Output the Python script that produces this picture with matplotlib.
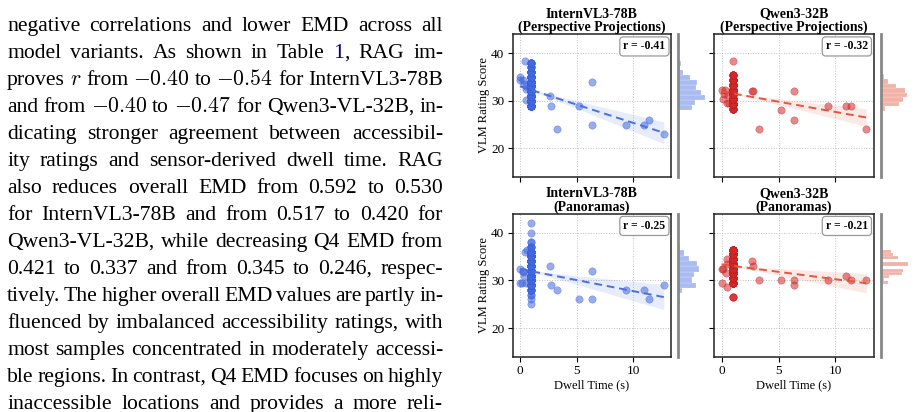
import re
import numpy as np
import matplotlib
matplotlib.use("Agg")
import matplotlib.pyplot as plt

plt.rcParams["font.family"] = ["Liberation Serif", "DejaVu Serif"]
plt.rcParams["mathtext.fontset"] = "cm"

# ---------------- data ----------------
# long dwell times, shared by both models of a view type
persp_long_x = [2.65, 2.75, 3.3, 5.25, 6.35, 6.35, 9.35, 10.95, 11.35, 12.7]
pano_long_x = [2.65, 2.75, 3.3, 5.25, 6.35, 6.35, 9.35, 10.95, 11.35, 12.7]

# InternVL3-78B, perspective projections
ivl_persp_short_x = [0.0, 0.0, 0.3, 0.4, 0.5, 0.55, 0.5, 0.45]
ivl_persp_short_y = [35.0, 34.4, 34.3, 33.5, 32.4, 33.0, 30.2, 38.4]
ivl_persp_long_y = [31, 29, 24, 29, 34, 25, 25, 25, 26, 23]
ivl_persp_col_scores = [29, 30, 31, 32, 33, 34, 35, 36, 37, 38]
ivl_persp_col_counts = [31, 40, 59, 52, 39, 41, 25, 12, 5, 7]

# Qwen3-32B, perspective projections
qwen_persp_short_x = [0.0, 0.3, 0.1, 0.2, 0.5, 0.6, 0.65, 1.0]
qwen_persp_short_y = [32.3, 32.3, 30.4, 31.5, 29.5, 31.3, 29.5, 38.4]
qwen_persp_long_y = [32, 32, 24, 28, 32, 26, 29, 29, 29, 24]
qwen_persp_col_scores = [28.3, 29.3, 30.3, 31.4, 32.3, 33.4, 34.4, 35.4]
qwen_persp_col_counts = [9, 36, 50, 58, 50, 35, 15, 8]

# InternVL3-78B, panoramas
ivl_pano_short_x = [0.0, 0.3, 0.45, 0.6, 0.0, 0.15, 0.55, 0.4, 0.3, 1.0, 1.0]
ivl_pano_short_y = [32.4, 32.0, 36.0, 36.4, 29.4, 29.4, 29.4, 31.0, 31.7, 40.0, 42.0]
ivl_pano_long_y = [33, 29, 28, 26, 32, 26, 28, 28, 26, 29]
ivl_pano_col_scores = [25, 26, 27, 28, 29, 30, 31, 32, 33, 34, 35, 36, 37, 38]
ivl_pano_col_counts = [1, 1, 2, 6, 36, 32, 35, 45, 21, 21, 25, 13, 4, 2]

# Qwen3-32B, panoramas
qwen_pano_short_x = [0.0, 0.15, 0.5, 0.5, 0.4, 0.05, 0.5]
qwen_pano_short_y = [32.4, 32.4, 34.4, 33.5, 31.5, 29.4, 28.5]
qwen_pano_long_y = [34.1, 33.0, 30.1, 30.1, 30.1, 29.1, 30.1, 31.0, 30.1, 30.1]
qwen_pano_col_scores = [26.5, 29.4, 30.5, 31.5, 32.4, 33.5, 34.5, 35.5, 36.4]
qwen_pano_col_counts = [3, 14, 18, 47, 49, 60, 40, 27, 23]

titles = ["InternVL3-78B\n(Perspective Projections)", "Qwen3-32B\n(Perspective Projections)",
          "InternVL3-78B\n(Panoramas)", "Qwen3-32B\n(Panoramas)"]
r_labels = ["r = -0.41", "r = -0.32", "r = -0.25", "r = -0.21"]

para_lines = [
    "negative correlations and lower EMD across all",
    "model variants. As shown in Table {1}, RAG im-",
    "proves $r$ from $-0.40$ to $-0.54$ for InternVL3-78B",
    "and from $-0.40$ to $-0.47$ for Qwen3-VL-32B, in-",
    "dicating stronger agreement between accessibil-",
    "ity ratings and sensor-derived dwell time. RAG",
    "also reduces overall EMD from 0.592 to 0.530",
    "for InternVL3-78B and from 0.517 to 0.420 for",
    "Qwen3-VL-32B, while decreasing Q4 EMD from",
    "0.421 to 0.337 and from 0.345 to 0.246, respec-",
    "tively. The higher overall EMD values are partly in-",
    "fluenced by imbalanced accessibility ratings, with",
    "most samples concentrated in moderately accessi-",
    "ble regions. In contrast, Q4 EMD focuses on highly",
    "inaccessible locations and provides a more reli-",
]

blue = "#4169e1"
red = "#d62728"

W, H = 914, 412
fig = plt.figure(figsize=(W / 100, H / 100), dpi=100)


def px_axes(x0, y0, x1, y1):
    return fig.add_axes([x0 / W, 1 - y1 / H, (x1 - x0) / W, (y1 - y0) / H])


# ---------------- paragraph (justified) ----------------
renderer = fig.canvas.get_renderer()
left, right = 7, 443
fs_text = 15.6
for i, line in enumerate(para_lines):
    base = 30.7 + 27.0 * i
    words = line.split()
    placed = []
    for w in words:
        pieces = []
        for part in re.split(r"(\{[^}]*\})", w):
            if not part:
                continue
            if part.startswith("{"):
                pieces.append((part[1:-1], "#00008b"))
            else:
                pieces.append((part, "black"))
        texts = []
        for s, c in pieces:
            t = fig.text(0, 1 - base / H, s, fontsize=fs_text, color=c,
                         ha="left", va="baseline")
            texts.append((t, t.get_window_extent(renderer).width))
        placed.append(texts)
    widths = [sum(wd for _, wd in ts) for ts in placed]
    gap = (right - left - sum(widths)) / max(len(placed) - 1, 1)
    x = left
    for ts, wsum in zip(placed, widths):
        xx = x
        for t, wd in ts:
            t.set_x(xx / W)
            xx += wd
        x += wsum + gap


# ---------------- scatter panels ----------------
def panel_data(short_x, short_y, long_x, long_y, scores, counts):
    x = np.array(short_x + long_x + [1.0] * int(sum(counts)), dtype=float)
    y = np.concatenate([short_y, long_y, np.repeat(scores, counts)]).astype(float)
    return x, y


panels = [
    panel_data(ivl_persp_short_x, ivl_persp_short_y, persp_long_x, ivl_persp_long_y,
               ivl_persp_col_scores, ivl_persp_col_counts),
    panel_data(qwen_persp_short_x, qwen_persp_short_y, persp_long_x, qwen_persp_long_y,
               qwen_persp_col_scores, qwen_persp_col_counts),
    panel_data(ivl_pano_short_x, ivl_pano_short_y, pano_long_x, ivl_pano_long_y,
               ivl_pano_col_scores, ivl_pano_col_counts),
    panel_data(qwen_pano_short_x, qwen_pano_short_y, pano_long_x, qwen_pano_long_y,
               qwen_pano_col_scores, qwen_pano_col_counts),
]
styles = [
    dict(c=blue, edge="#3a5fd8", line="#4a6fe3", hist=blue),
    dict(c=red, edge="#b82225", line="#e5553f", hist="#e4553f"),
    dict(c=blue, edge="#3a5fd8", line="#4a6fe3", hist=blue),
    dict(c=red, edge="#b82225", line="#e5553f", hist="#e4553f"),
]

cols = [(512.7, 671.0, 678, 706), (714.3, 873.5, 881, 909)]
rows = [(34.0, 177.0), (213.5, 356.7)]

margins = []
top_count = 0
for k, (x, y) in enumerate(panels):
    r, c = divmod(k, 2)
    ax0, ax1, m0, m1 = cols[c]
    y0, y1 = rows[r]
    st = styles[k]
    ax = px_axes(ax0, y0, ax1, y1)
    mx = px_axes(m0, y0, m1, y1)

    # linear fit with 95% band
    b, a = np.polyfit(x, y, 1)
    xs = np.linspace(x.min(), x.max(), 100)
    yhat = a + b * xs
    n = len(x)
    s = np.sqrt(np.sum((y - (a + b * x)) ** 2) / (n - 2))
    se = s * np.sqrt(1 / n + (xs - x.mean()) ** 2 / np.sum((x - x.mean()) ** 2))
    ax.fill_between(xs, yhat - 1.97 * se, yhat + 1.97 * se, color=st["line"],
                    alpha=0.13, linewidth=0, zorder=1)
    ax.scatter(x, y, s=28, color=st["c"], alpha=0.55, edgecolors=st["edge"],
               linewidths=0.4, zorder=2)
    ax.plot(xs, yhat, color=st["line"], lw=1.4, ls=(0, (4, 2.5)), zorder=3)

    ax.set_ylim(14, 44)
    ax.set_xticks([0, 5, 10])
    ax.set_yticks([20, 30, 40])
    ax.grid(True, linestyle=":", linewidth=0.7, color="#c0c0c0")
    ax.set_axisbelow(True)
    ax.tick_params(labelsize=9.5, length=3.5, width=0.8, pad=2.5)
    for sp in ax.spines.values():
        sp.set_linewidth(1.1)
        sp.set_color("#222222")
    ax.set_title(titles[k], fontsize=10, fontweight="bold", linespacing=1.0, pad=2)
    ax.text(0.965, 0.955, r_labels[k], transform=ax.transAxes, ha="right", va="top",
            fontsize=8.5, fontweight="bold",
            bbox=dict(boxstyle="round,pad=0.3", fc="white", ec="#999999", lw=0.9))
    if c == 0:
        ax.set_ylabel("VLM Rating Score", fontsize=9, labelpad=1)
    else:
        ax.tick_params(labelleft=False)
    if r == 1:
        ax.set_xlabel("Dwell Time (s)", fontsize=9, labelpad=1.5)
    else:
        ax.tick_params(labelbottom=False)

    cnt, _, _ = mx.hist(y, bins=15, orientation="horizontal", color=st["hist"],
                        alpha=0.45, edgecolor="white", linewidth=0.3)
    top_count = max(top_count, cnt.max())
    mx.set_ylim(14, 44)
    mx.set_xticks([])
    mx.set_yticks([])
    for name, sp in mx.spines.items():
        sp.set_visible(name == "left")
    mx.spines["left"].set_color("#888888")
    mx.spines["left"].set_linewidth(2)
    mx.patch.set_alpha(0)
    margins.append(mx)

# marginal histograms share one count scale
for mx in margins:
    mx.set_xlim(0, top_count * 1.05)

fig.savefig("out.png", dpi=100)
